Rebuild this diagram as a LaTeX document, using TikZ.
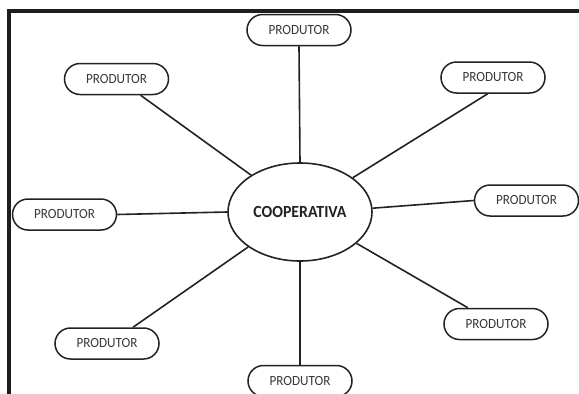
\documentclass[tikz,border=0pt]{standalone}
\usepackage{fontspec}
\setmainfont{Carlito}
\usetikzlibrary{shapes.misc,shapes.geometric}
\definecolor{ink}{HTML}{222222}
\definecolor{txt}{HTML}{383838}
\definecolor{framec}{HTML}{1E1E1E}
\newcommand{\prodtext}{\scalebox{0.94}[1]{PRODUTOR}}
\tikzset{
  prod/.style={rounded rectangle, draw=ink, line width=1.5pt, minimum width=104pt, minimum height=31pt, inner sep=0pt, text=txt, font=\fontsize{14}{15}\selectfont},
  coopnode/.style={ellipse, draw=ink, line width=1.6pt, minimum width=144pt, minimum height=98pt, inner sep=0pt, text=ink, font=\fontsize{17}{18}\selectfont\bfseries},
  link/.style={draw=ink, line width=1.6pt}
}
\begin{document}
\begin{tikzpicture}[x=1pt,y=-1pt]
\useasboundingbox (0,0) rectangle (579,394);
\node[coopnode] (coop) at (300,212) {\scalebox{0.93}[1]{COOPERATIVA}};
\node[prod] (p1) at (299,30) {\prodtext};
\node[prod] (p2) at (116.5,79) {\prodtext};
\node[prod] (p3) at (493,77.5) {\prodtext};
\node[prod] (p4) at (64.5,214.5) {\prodtext};
\node[prod] (p5) at (526.5,200.5) {\prodtext};
\node[prod] (p6) at (107,343.5) {\prodtext};
\node[prod] (p7) at (496,324) {\prodtext};
\node[prod] (p8) at (300,381) {\prodtext};
\draw[link] (p1.south) -- (coop.north);
\draw[link] (p2.-34) -- (coop.143);
\draw[link] (p3.252) -- (coop.33);
\draw[link] (p4.east) -- (coop.west);
\draw[link] (p5.west) -- (coop.3);
\draw[link] (p6.32) -- (coop.214);
\draw[link] (p7.150) -- (coop.331);
\draw[link] (p8.north) -- (coop.south);
\fill[framec] (7,9) rectangle (579,13.3);
\fill[framec] (7,9) rectangle (11,394);
\end{tikzpicture}
\end{document}
